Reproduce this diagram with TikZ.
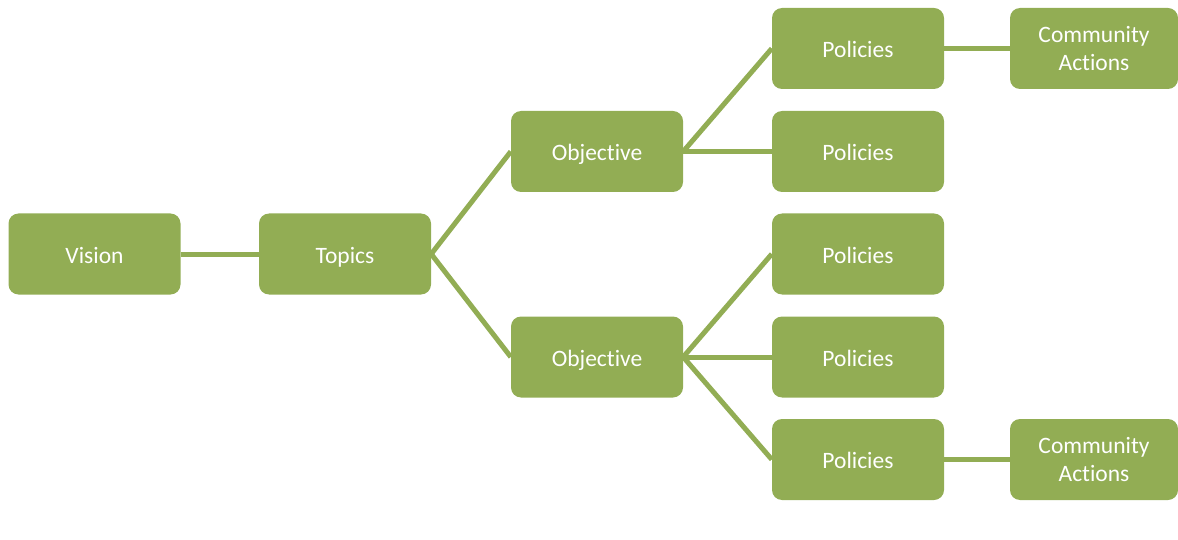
\documentclass[tikz,border=0pt]{standalone}
\usepackage{fontspec}
\setmainfont{Carlito}[Ligatures=NoCommon]
\definecolor{boxgreen}{RGB}{146,173,84}
\begin{document}
\begin{tikzpicture}[x=1pt,y=-1pt,
  box/.style={rectangle, rounded corners=10pt, fill=boxgreen, draw=none,
    text=white, font=\fontsize{23.5}{28}\selectfont, align=center,
    minimum width=172pt, minimum height=81pt, inner sep=0pt},
  sbox/.style={box, text height=18pt, text depth=0pt},
  cbox/.style={box, minimum width=168pt},
  link/.style={draw=boxgreen, line width=5pt}]
\useasboundingbox (0,0) rectangle (1178,540);
\node[sbox] (vision) at (94.5,254) {Vision};
\node[sbox] (topics) at (345,254) {Topics};
\node[sbox] (obj1) at (597,151.5) {Objective};
\node[sbox] (obj2) at (597,357) {Objective};
\node[sbox] (p1) at (858,48.5) {Policies};
\node[sbox] (p2) at (858,151.5) {Policies};
\node[sbox] (p3) at (858,254) {Policies};
\node[sbox] (p4) at (858,357) {Policies};
\node[sbox] (p5) at (858,459.5) {Policies};
\node[cbox] (c1) at (1094,48.5) {Community\\Actions};
\node[cbox] (c2) at (1094,459.5) {Community\\Actions};
\path[link] (vision.east) -- (topics.west);
\path[link] (topics.east) -- (obj1.west);
\path[link] (topics.east) -- (obj2.west);
\path[link] (obj1.east) -- (p1.west);
\path[link] (obj1.east) -- (p2.west);
\path[link] (obj2.east) -- (p3.west);
\path[link] (obj2.east) -- (p4.west);
\path[link] (obj2.east) -- (p5.west);
\path[link] (p1.east) -- (c1.west);
\path[link] (p5.east) -- (c2.west);
\end{tikzpicture}
\end{document}
